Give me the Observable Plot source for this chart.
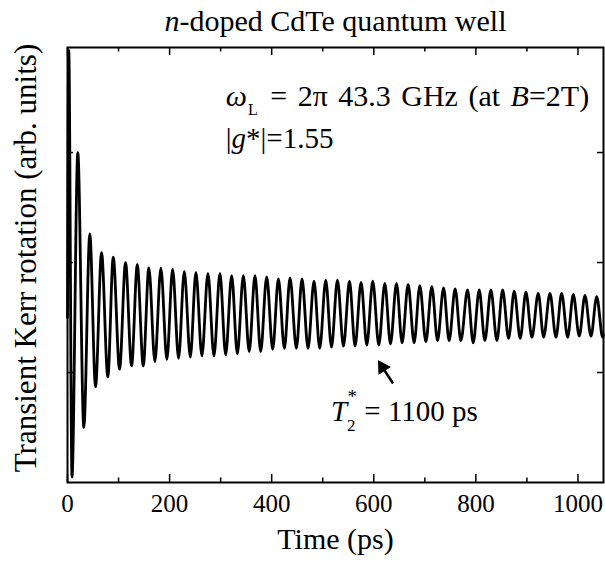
<!DOCTYPE html>
<html><head><meta charset="utf-8">
<script src="https://cdn.jsdelivr.net/npm/d3@7"></script>
<script src="https://cdn.jsdelivr.net/npm/@observablehq/plot@0.6"></script>
<style>body{margin:0;background:#fff} svg text{font-family:"Liberation Serif","Times New Roman",serif !important;}</style>
</head><body><div id="chart"></div>
<script>
// Extrema of the Kerr rotation trace (time in ps, signal in arb. units)
const times = [0, 2.5, 8.8, 20.2, 32.0, 43.7, 54.9, 66.7, 79.0, 89.6, 102.0, 113.7, 125.5, 136.7, 148.4, 159.4, 171.2, 182.9, 194.7, 205.9, 217.6, 228.8, 240.6, 251.6, 263.3, 275.1, 286.9, 298.6, 309.8, 321.6, 332.7, 344.5, 355.9,
  367.3, 378.4, 390.2, 402.0, 413.1, 424.9, 435.9, 448.4, 459.4, 471.2, 482.9, 494.1, 505.9, 517.1, 528.8, 540.6, 552.4, 563.3, 575.1, 586.3, 598.0, 609.8, 621.6, 632.7, 644.5, 655.5, 667.3, 679.0, 690.2, 702.0,
  713.7, 724.9, 736.7, 747.6, 759.4, 770.6, 783.7, 794.7, 806.5, 817.6, 829.4, 841.2, 852.4, 864.1, 875.1, 886.9, 898.0, 909.8, 922.2, 932.7, 945.1, 956.9, 968.0, 979.8, 990.8, 1002.5, 1013.7, 1025.5, 1036.7, 1048.4, 1050];
const signal = [1.5, 3.93, 0.05, 3.00, 0.50, 2.26, 0.87, 2.09, 0.96, 2.05, 1.03, 2.00, 1.06, 1.98, 1.06, 1.95, 1.10, 1.95, 1.12, 1.94, 1.13, 1.92, 1.14, 1.91, 1.15, 1.90, 1.15, 1.90, 1.16, 1.88, 1.17, 1.88, 1.19,
  1.88, 1.19, 1.87, 1.21, 1.85, 1.22, 1.86, 1.22, 1.85, 1.22, 1.83, 1.22, 1.84, 1.23, 1.84, 1.24, 1.83, 1.24, 1.82, 1.25, 1.83, 1.25, 1.81, 1.26, 1.81, 1.27, 1.80, 1.27, 1.79, 1.28,
  1.78, 1.29, 1.77, 1.29, 1.76, 1.29, 1.75, 1.27, 1.75, 1.29, 1.75, 1.29, 1.75, 1.31, 1.74, 1.31, 1.73, 1.32, 1.72, 1.32, 1.72, 1.32, 1.72, 1.32, 1.71, 1.33, 1.70, 1.33, 1.69, 1.32, 1.34];

const xMajorTicks = [0, 200, 400, 600, 800, 1000];
const xMinorTicks = [100, 300, 500, 700, 900];
const yTicks = [1, 2, 3];

const titleText = "n-doped CdTe quantum well";
const xLabel = "Time (ps)";
const yLabel = "Transient Kerr rotation (arb. units)";
const note1 = "ωL = 2π 43.3 GHz (at B=2T)";
const note2 = "|g*|=1.55";
const note3 = "T2* = 1100 ps";

const data = times.map((t, i) => ({t, v: signal[i]}));

const X0 = 0, X1 = 1050, Y0 = 0, Y1 = 3.955;
const pxX = 536 / (X1 - X0), pxY = 435 / (Y1 - Y0);
const major = 8, minor = 4.5, ytk = 6;
const font = "'Liberation Serif', 'Times New Roman', serif";

const chart = Plot.plot({
  width: 605, height: 563,
  marginLeft: 67, marginRight: 2, marginTop: 47, marginBottom: 81,
  style: {fontFamily: font, color: "#000", background: "#fff"},
  x: {domain: [X0, X1]},
  y: {domain: [Y0, Y1]},
  marks: [
    Plot.axisX({ticks: xMajorTicks, tickSize: 0, tickPadding: 12, fontSize: 25, fontFamily: font, tickFormat: d => String(d), label: null}),
    Plot.axisY({ticks: [], label: null}),
    // inward ticks
    Plot.ruleX(xMajorTicks, {x: d => d, y1: Y0, y2: Y0 + major / pxY, strokeWidth: 1.5}),
    Plot.ruleX(xMinorTicks, {x: d => d, y1: Y0, y2: Y0 + minor / pxY, strokeWidth: 1.5}),
    Plot.ruleX(xMajorTicks, {x: d => d, y1: Y1, y2: Y1 - major / pxY, strokeWidth: 1.5}),
    Plot.ruleX(xMinorTicks, {x: d => d, y1: Y1, y2: Y1 - minor / pxY, strokeWidth: 1.5}),
    Plot.ruleY(yTicks, {y: d => d, x1: X0, x2: X0 + ytk / pxX, strokeWidth: 1.5}),
    Plot.ruleY(yTicks, {y: d => d, x1: X1, x2: X1 - ytk / pxX, strokeWidth: 1.5}),
    Plot.line(data, {x: "t", y: "v", curve: "monotone-x", stroke: "#000", strokeWidth: 2.8}),
    Plot.frame({stroke: "#000", strokeWidth: 2}),
    // arrow pointing at the trace: shaft + filled head
    Plot.link([{x1: 637.8, y1: 0.90, x2: 617, y2: 1.048}], {x1: "x1", y1: "y1", x2: "x2", y2: "y2", stroke: "#000", strokeWidth: 2.5}),
    Plot.dot([{x: 617, y: 1.048}], {x: "x", y: "y", symbol: "triangle", r: 4.8, rotate: -32, fill: "#000", stroke: "#000", strokeWidth: 1}),
    Plot.text([titleText], {frameAnchor: "top", dy: -38, fontSize: 30, fontFamily: font, text: d => d}),
    Plot.text([xLabel], {frameAnchor: "bottom", dy: 66, fontSize: 30, fontFamily: font, text: d => d}),
    Plot.text([yLabel], {frameAnchor: "left", textAnchor: "middle", dx: -41, dy: -7, rotate: -90, fontSize: 31, fontFamily: font, text: d => d}),
    Plot.text([note1], {x: () => 310, y: () => 3.43, textAnchor: "start", dy: -9, fontSize: 30, fontFamily: font, text: d => d}),
    Plot.text([note2], {x: () => 310, y: () => 3.04, textAnchor: "start", dy: -9, fontSize: 29, fontFamily: font, text: d => d}),
    Plot.text([note3], {x: () => 516, y: () => 0.56, textAnchor: "start", dy: -9, fontSize: 29, fontFamily: font, text: d => d})
  ]
});

function rich(svg, plain, parts, wordSpacing) {
  d3.select(svg).selectAll("text").filter(function() { return this.textContent === plain; }).each(function() {
    const t = d3.select(this);
    t.text(null);
    if (wordSpacing) t.attr("word-spacing", wordSpacing);
    for (const p of parts) {
      const s = t.append("tspan").text(p.s);
      if (p.i) s.attr("font-style", "italic");
      if (p.fs) s.attr("font-size", p.fs);
      if (p.dy) s.attr("dy", p.dy);
      if (p.dx) s.attr("dx", p.dx);
    }
  });
}
rich(chart, titleText, [{s: "n", i: true}, {s: "-doped CdTe quantum well"}]);
rich(chart, note1, [{s: "ω", i: true}, {s: "L", fs: 16, dy: 9, dx: 1}, {s: " = 2π 43.3 GHz (at ", dy: -9, dx: 2}, {s: "B", i: true}, {s: "=2T)"}], 3);
rich(chart, note2, [{s: "|"}, {s: "g", i: true}, {s: "*|=1.55"}]);
rich(chart, note3, [{s: "T", i: true}, {s: "2", fs: 17, dy: 10}, {s: "*", fs: 19, dx: -8, dy: -28}, {s: " = 1100 ps", dy: 18}]);

document.getElementById("chart").appendChild(chart);
</script>
</body></html>
